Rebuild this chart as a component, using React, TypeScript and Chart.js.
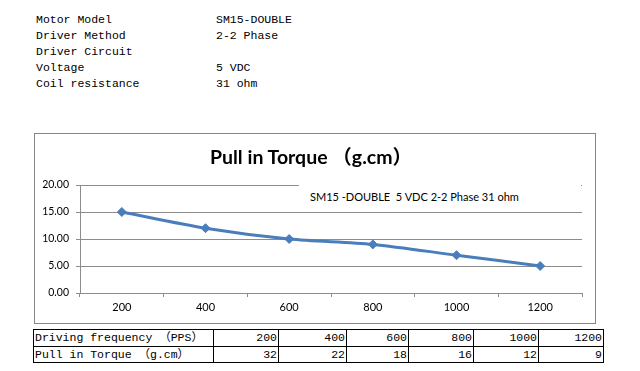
import React, { useEffect, useRef } from "react";
import { Chart, registerables } from "chart.js";

Chart.register(...registerables);

const specLabels = ["Motor Model", "Driver Method", "Driver Circuit", "Voltage", "Coil resistance"];
const specValues = ["SM15-DOUBLE", "2-2 Phase", "", "5 VDC", "31 ohm"];

const frequencies = ["200", "400", "600", "800", "1000", "1200"];
const torqueSeries = [15, 12, 10, 9, 7, 5];
const yTicks = [0, 5, 10, 15, 20];

const chartTitle = "Pull in Torque （g.cm）";
const chartSubtitle = "SM15 -DOUBLE  5 VDC 2-2 Phase 31 ohm";

const tableRowHeaders = ["Driving frequency （PPS）", "Pull in Torque （g.cm）"];
const tableFrequencies = [200, 400, 600, 800, 1000, 1200];
const tableTorques = [32, 22, 18, 16, 12, 9];

const MONO = "'Liberation Mono', 'DejaVu Sans Mono', 'Noto Sans CJK SC', monospace";
const SANS = "Lato, 'Noto Sans CJK SC', sans-serif";
const LINE_BLUE = "#4A7EBB";
const GRID = "#8C8C8C";

const colWidths = [180, 65, 68, 62, 65, 65, 65];

export default function App() {
  const canvasRef = useRef<HTMLCanvasElement | null>(null);

  useEffect(() => {
    document.body.style.margin = "0";
    const canvas = canvasRef.current;
    if (!canvas) return;
    const chart = new Chart(canvas, {
      type: "line",
      data: {
        labels: frequencies,
        datasets: [
          {
            data: torqueSeries,
            borderColor: LINE_BLUE,
            backgroundColor: LINE_BLUE,
            borderWidth: 3,
            tension: 0.3,
            pointStyle: "rectRot",
            pointRadius: 4.5,
            pointBorderWidth: 1,
            pointBackgroundColor: LINE_BLUE,
            pointBorderColor: LINE_BLUE,
            fill: false,
          },
        ],
      },
      options: {
        animation: false,
        responsive: false,
        maintainAspectRatio: false,
        layout: { padding: { top: 51, right: 13, bottom: 0, left: 0 } },
        plugins: {
          legend: { display: false },
          title: { display: false },
          tooltip: { enabled: false },
        },
        scales: {
          x: {
            type: "category",
            offset: true,
            afterFit: (s: any) => {
              s.height = 30;
            },
            grid: {
              display: true,
              offset: true,
              drawOnChartArea: false,
              drawTicks: true,
              tickLength: 4,
              color: GRID,
            },
            border: { display: true, color: GRID },
            ticks: {
              color: "#000",
              font: { family: SANS, size: 11 },
              padding: 4,
              maxRotation: 0,
            },
          },
          y: {
            min: 0,
            max: 20,
            afterFit: (s: any) => {
              s.width = 45;
            },
            afterBuildTicks: (s: any) => {
              s.ticks = yTicks.map((v) => ({ value: v }));
            },
            grid: {
              display: true,
              color: GRID,
              tickLength: 4,
              drawTicks: true,
            },
            border: { display: true, color: GRID },
            ticks: {
              color: "#000",
              font: { family: SANS, size: 10.5 },
              padding: 7,
              callback: (v: any) => Number(v).toFixed(2),
            },
          },
        },
      },
    });
    return () => chart.destroy();
  }, []);

  const cellBase: React.CSSProperties = {
    boxSizing: "border-box",
    borderRight: "1px solid #000",
    borderBottom: "1px solid #000",
    fontFamily: MONO,
    fontSize: "11.5px",
    lineHeight: "16px",
    whiteSpace: "nowrap",
    overflow: "hidden",
    color: "#000",
  };

  const rows = [
    [tableRowHeaders[0], ...tableFrequencies.map(String)],
    [tableRowHeaders[1], ...tableTorques.map(String)],
  ];

  return (
    <div style={{ position: "absolute", left: 0, top: 0, width: 640, height: 371, background: "#fff", overflow: "hidden" }}>
      {specLabels.map((lab, i) => (
        <div
          key={lab}
          style={{
            position: "absolute",
            left: 36,
            top: 12 + i * 16,
            fontFamily: MONO,
            fontSize: "11.5px",
            lineHeight: "16px",
            whiteSpace: "pre",
            color: "#000",
          }}
        >
          {lab}
        </div>
      ))}
      {specValues.map((val, i) => (
        <div
          key={"v" + i}
          style={{
            position: "absolute",
            left: 216,
            top: 12 + i * 16,
            fontFamily: MONO,
            fontSize: "11.5px",
            lineHeight: "16px",
            whiteSpace: "pre",
            color: "#000",
          }}
        >
          {val}
        </div>
      ))}

      <div
        style={{
          position: "absolute",
          left: 34,
          top: 133,
          width: 562,
          height: 191,
          boxSizing: "border-box",
          border: "1px solid #868686",
        }}
      >
        <canvas ref={canvasRef} width={560} height={189} style={{ display: "block", width: 560, height: 189 }} />
      </div>

      <div
        style={{
          position: "absolute",
          left: 160,
          width: 302,
          top: 145,
          textAlign: "center",
          fontFamily: SANS,
          fontWeight: 700,
          fontSize: "19.5px",
          lineHeight: "23px",
          color: "#000",
          whiteSpace: "pre",
        }}
      >
        {chartTitle}
      </div>

      <div
        style={{
          position: "absolute",
          left: 299,
          top: 180,
          width: 282,
          height: 27,
          background: "#fff",
        }}
      >
        <div
          style={{
            position: "absolute",
            left: 11,
            top: 10,
            fontFamily: SANS,
            fontSize: "11px",
            lineHeight: "14px",
            color: "#000",
            whiteSpace: "pre",
          }}
        >
          {chartSubtitle}
        </div>
      </div>

      <div
        style={{
          position: "absolute",
          left: 33,
          top: 329,
          display: "grid",
          gridTemplateColumns: colWidths.map((w) => w + "px").join(" "),
          gridTemplateRows: "17px 16px",
          borderLeft: "1px solid #000",
          borderTop: "1px solid #000",
        }}
      >
        {rows.map((row, r) =>
          row.map((cell, c) => (
            <div
              key={r + "-" + c}
              style={{
                ...cellBase,
                textAlign: c === 0 ? "left" : "right",
                paddingLeft: c === 0 ? 1 : 0,
                paddingRight: c === 0 ? 0 : 1,
              }}
            >
              {cell}
            </div>
          ))
        )}
      </div>
    </div>
  );
}
